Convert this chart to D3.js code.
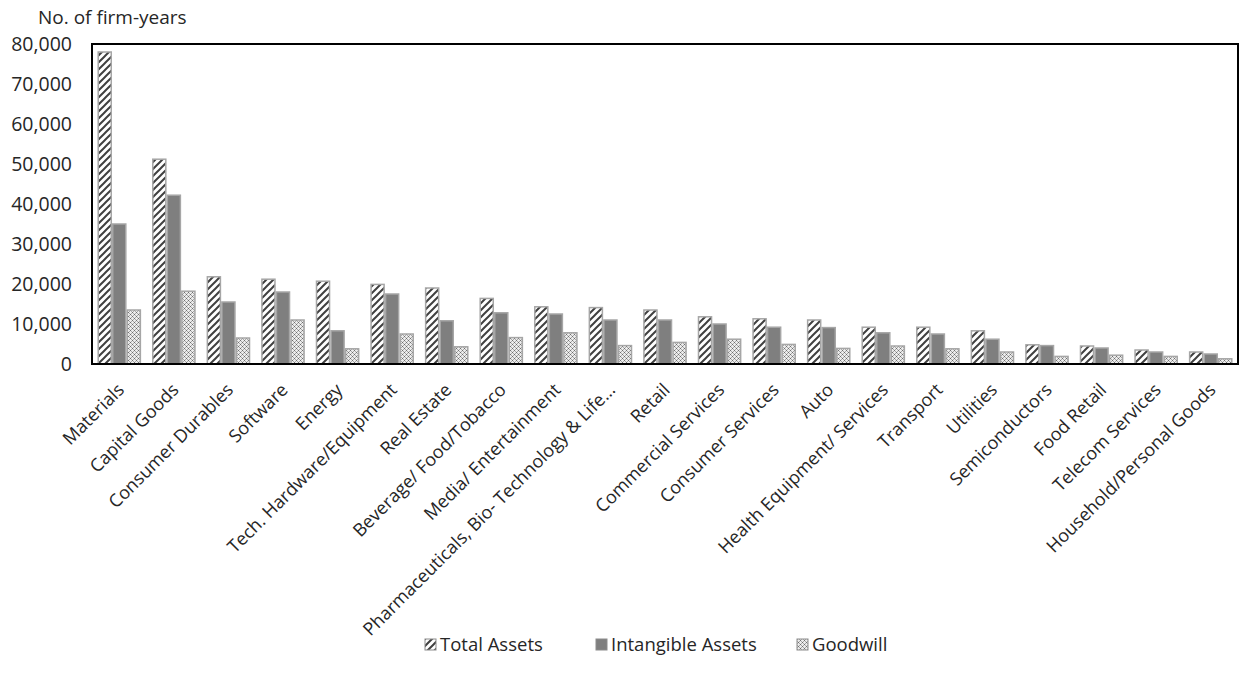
<!DOCTYPE html>
<html><head><meta charset="utf-8">
<script src="https://cdn.jsdelivr.net/npm/d3@7"></script>
<style>body{margin:0;background:#fff}svg{display:block}text{font-family:"Open Sans",sans-serif;fill:#262626}</style>
</head><body><svg id="c" width="1240" height="685"></svg>
<script>
const categories = ["Materials","Capital Goods","Consumer Durables","Software","Energy","Tech. Hardware/Equipment","Real Estate","Beverage/ Food/Tobacco","Media/ Entertainment","Pharmaceuticals, Bio- Technology & Life...","Retail","Commercial Services","Consumer Services","Auto","Health Equipment/ Services","Transport","Utilities","Semiconductors","Food Retail","Telecom Services","Household/Personal Goods"];
const seriesNames = ["Total Assets","Intangible Assets","Goodwill"];
const totalAssets = [78000,51200,21800,21200,20700,19900,19000,16400,14300,14100,13500,11800,11300,11000,9200,9200,8300,4800,4500,3500,3000];
const intangibleAssets = [35000,42200,15500,18000,8300,17500,10800,12800,12500,11000,11000,10000,9200,9100,7800,7500,6200,4600,4000,3000,2500];
const goodwill = [13500,18200,6500,11000,3800,7500,4300,6600,7800,4600,5400,6200,4900,3900,4500,3800,3000,1900,2200,1900,1300];
const yTicks = [0,10000,20000,30000,40000,50000,60000,70000,80000];

const svg = d3.select("#c");
const L=92, R=1238, T=44, B=364;
const defs = svg.append("defs");
const ps = defs.append("pattern").attr("id","stripe").attr("patternUnits","userSpaceOnUse").attr("width",7).attr("height",7);
ps.append("rect").attr("width",7).attr("height",7).attr("fill","#fff");
ps.append("path").attr("d","M-1,8 L8,-1 M-2,2 L2,-2 M5,9 L9,5").attr("stroke","#404040").attr("stroke-width",2);
const pg = defs.append("pattern").attr("id","dots").attr("patternUnits","userSpaceOnUse").attr("width",4).attr("height",4);
pg.append("rect").attr("width",4).attr("height",4).attr("fill","#ececec");
[[0,0],[2,2]].forEach(p=>pg.append("rect").attr("x",p[0]).attr("y",p[1]).attr("width",1).attr("height",1).attr("fill","#6e6e6e"));
[[1,1],[3,3],[1,3],[3,1]].forEach(p=>pg.append("rect").attr("x",p[0]).attr("y",p[1]).attr("width",1).attr("height",1).attr("fill","#a8a8a8"));
const fills = ["url(#stripe)","#7f7f7f","url(#dots)"];

const x = d3.scaleBand().domain(categories).range([L,R]).paddingInner(0.2).paddingOuter(0.1);
const xs = d3.scaleBand().domain(seriesNames).range([0,x.bandwidth()]);
const y = d3.scaleLinear().domain([0,80000]).range([B,T]);
const data = [totalAssets,intangibleAssets,goodwill];

const gBars = svg.append("g");
seriesNames.forEach((s,si)=>{
  gBars.selectAll(null).data(categories).enter().append("rect")
    .attr("x",d=>x(d)+xs(s)+0.75).attr("width",xs.bandwidth()-1.5)
    .attr("y",(d,i)=>y(data[si][i])).attr("height",(d,i)=>B-y(data[si][i]))
    .attr("fill",fills[si]).attr("stroke","#a6a6a6").attr("stroke-width",1.5);
});

svg.append("rect").attr("x",L).attr("y",T).attr("width",R-L).attr("height",B-T).attr("fill","none").attr("stroke","#000").attr("stroke-width",2);

const ya = svg.append("g").attr("transform",`translate(${L},0)`).call(d3.axisLeft(y).tickValues(yTicks).tickFormat(d3.format(",")).tickSize(0).tickPadding(20));
ya.select(".domain").remove();
ya.selectAll("text").style("font-family","'Open Sans',sans-serif").style("font-size","19.5px").attr("fill","#262626");

const xa = svg.append("g").attr("transform",`translate(0,${B})`).call(d3.axisBottom(x).tickSize(0));
xa.select(".domain").remove();
xa.selectAll("text").style("font-family","'Open Sans',sans-serif").style("font-size","18px").attr("fill","#262626")
  .attr("text-anchor","end").attr("x",0).attr("y",0).attr("dy","0").attr("transform","translate(6,27) rotate(-45)");

svg.append("text").attr("x",38).attr("y",24).style("font-size","19px").text("No. of firm-years");

const lx = [425,596,797];
const lg = svg.append("g");
seriesNames.forEach((s,i)=>{
  lg.append("rect").attr("x",lx[i]).attr("y",639).attr("width",11).attr("height",11).attr("fill",fills[i]).attr("stroke","#8c8c8c").attr("stroke-width",1);
  lg.append("text").attr("x",lx[i]+15).attr("y",651).style("font-size","18.5px").text(s);
});
</script></body></html>
